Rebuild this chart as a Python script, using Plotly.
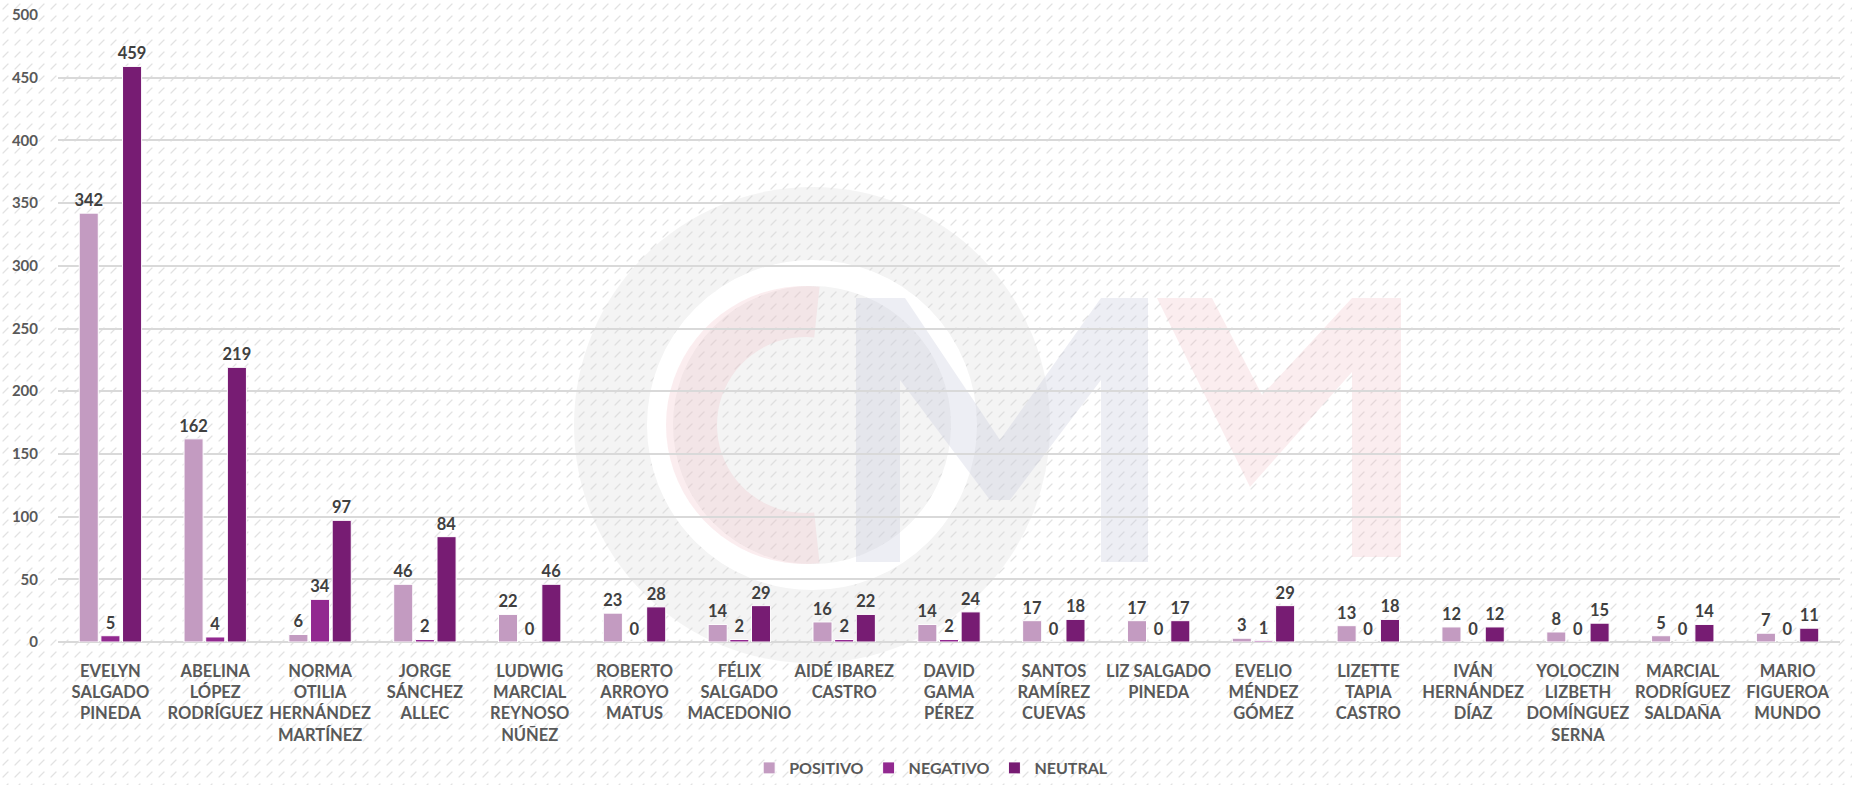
import base64
import math
import plotly.graph_objects as go

# categories (as shown on the axis, with line breaks)
candidatos = [
    "EVELYN<br>SALGADO<br>PINEDA",
    "ABELINA<br>LÓPEZ<br>RODRÍGUEZ",
    "NORMA<br>OTILIA<br>HERNÁNDEZ<br>MARTÍNEZ",
    "JORGE<br>SÁNCHEZ<br>ALLEC",
    "LUDWIG<br>MARCIAL<br>REYNOSO<br>NÚÑEZ",
    "ROBERTO<br>ARROYO<br>MATUS",
    "FÉLIX<br>SALGADO<br>MACEDONIO",
    "AIDÉ IBAREZ<br>CASTRO",
    "DAVID<br>GAMA<br>PÉREZ",
    "SANTOS<br>RAMÍREZ<br>CUEVAS",
    "LIZ SALGADO<br>PINEDA",
    "EVELIO<br>MÉNDEZ<br>GÓMEZ",
    "LIZETTE<br>TAPIA<br>CASTRO",
    "IVÁN<br>HERNÁNDEZ<br>DÍAZ",
    "YOLOCZIN<br>LIZBETH<br>DOMÍNGUEZ<br>SERNA",
    "MARCIAL<br>RODRÍGUEZ<br>SALDAÑA",
    "MARIO<br>FIGUEROA<br>MUNDO",
]
positivo = [342, 162, 6, 46, 22, 23, 14, 16, 14, 17, 17, 3, 13, 12, 8, 5, 7]
negativo = [5, 4, 34, 2, 0, 0, 2, 2, 2, 0, 0, 1, 0, 0, 0, 0, 0]
neutral = [459, 219, 97, 84, 46, 28, 29, 22, 24, 18, 17, 29, 18, 12, 15, 14, 11]

series = [
    ("POSITIVO", positivo, "#C39BC1"),
    ("NEGATIVO", negativo, "#922990"),
    ("NEUTRAL", neutral, "#771C73"),
]

FONT = "Lato"
W, H = 1852, 785
ML, MR, MT, MB = 58, 12, 15, 143
pw, ph = W - ML - MR, H - MT - MB


def px_x(x):
    return (x - ML) / pw


def px_y(y):
    return 1 - (y - MT) / ph


fig = go.Figure()
for name, vals, color in series:
    fig.add_trace(go.Bar(
        name=name, x=candidatos, y=vals,
        marker=dict(color=color, line=dict(color="white", width=1)),
        text=vals, textposition="outside", constraintext="none",
        textfont=dict(family=FONT, size=16.5, color="#404040", weight="bold"),
        cliponaxis=False,
    ))

# diagonal hatch background (decoration)
svg = (
    f'<svg xmlns="http://www.w3.org/2000/svg" width="{W}" height="{H}">'
    '<defs><pattern id="p" width="12" height="12" patternUnits="userSpaceOnUse">'
    '<path d="M3 9 L8 4" stroke="#e2e2e2" stroke-width="1.2" stroke-linecap="round"/>'
    '</pattern></defs><rect width="100%" height="100%" fill="url(#p)"/></svg>'
)
src = "data:image/svg+xml;base64," + base64.b64encode(svg.encode()).decode()


# faint watermark logo (decoration)
def poly(points, color):
    d = "M " + " L ".join(f"{px_x(x):.5f},{px_y(y):.5f}" for x, y in points) + " Z"
    return dict(type="path", xref="paper", yref="paper", path=d,
                fillcolor=color, line=dict(width=0), layer="below")


def circ(cx, cy, r, fill, line_color="rgba(0,0,0,0)", lw=0):
    return dict(type="circle", xref="paper", yref="paper",
                x0=px_x(cx - r), x1=px_x(cx + r), y0=px_y(cy + r), y1=px_y(cy - r),
                fillcolor=fill, line=dict(color=line_color, width=lw), layer="below")


PINK = "rgba(238,185,192,0.26)"
BLUE = "rgba(198,201,222,0.32)"
cx, cy = 812, 425
shapes = [
    circ(cx, cy, 238, "rgba(215,215,215,0.28)"),
    circ(cx, cy, 152, "rgba(0,0,0,0)", "white", 26),
]
arc = []
ro, ri = 139, 88
for k in range(41):
    a = math.radians(84 + k * (192 / 40))
    arc.append((cx - 7 + ro * math.cos(a), cy - ro * math.sin(a)))
for k in range(40, -1, -1):
    a = math.radians(84 + k * (192 / 40))
    arc.append((cx - 7 + ri * math.cos(a), cy - ri * math.sin(a)))
shapes.append(poly(arc, PINK))
shapes.append(poly([(856, 562), (856, 298), (905, 298), (1000, 440), (1101, 298),
                    (1148, 298), (1148, 562), (1101, 562), (1101, 380), (1010, 500),
                    (990, 500), (900, 380), (900, 562)], BLUE))
shapes.append(poly([(1157, 298), (1212, 298), (1262, 395), (1352, 298), (1401, 298),
                    (1401, 557), (1352, 557), (1352, 372), (1250, 487)], PINK))

fig.update_layout(
    width=W, height=H,
    margin=dict(l=ML, r=MR, t=MT, b=MB, autoexpand=False),
    paper_bgcolor="white", plot_bgcolor="rgba(0,0,0,0)",
    barmode="group", bargap=0.38, bargroupgap=0.12,
    font=dict(family=FONT, color="#595959"),
    images=[dict(source=src, xref="paper", yref="paper",
                 x=-ML / pw, y=1 + MT / ph, sizex=W / pw, sizey=H / ph,
                 xanchor="left", yanchor="top", sizing="stretch", layer="below")],
    shapes=shapes,
    legend=dict(orientation="h", x=0.49, xanchor="center",
                yref="container", y=(H - 768) / H, yanchor="middle",
                font=dict(family=FONT, size=16, color="#595959", weight="bold"),
                bgcolor="rgba(0,0,0,0)", itemwidth=30),
    showlegend=True,
)
fig.update_yaxes(range=[0, 500], dtick=50, showgrid=True, gridcolor="#d9d9d9",
                 gridwidth=1.5, zeroline=True, zerolinecolor="#d9d9d9", zerolinewidth=1.5,
                 tickfont=dict(family=FONT, size=15, color="#595959", weight="bold"),
                 ticks="", ticklabelstandoff=19, automargin=False)
fig.update_xaxes(showline=False, ticks="", tickangle=0, automargin=False,
                 tickfont=dict(family=FONT, size=16.5, color="#595959", weight="bold"),
                 ticklabelstandoff=17)

fig.write_html("out.html", config={"displayModeBar": False},
               post_script="document.body.style.margin='0';")
